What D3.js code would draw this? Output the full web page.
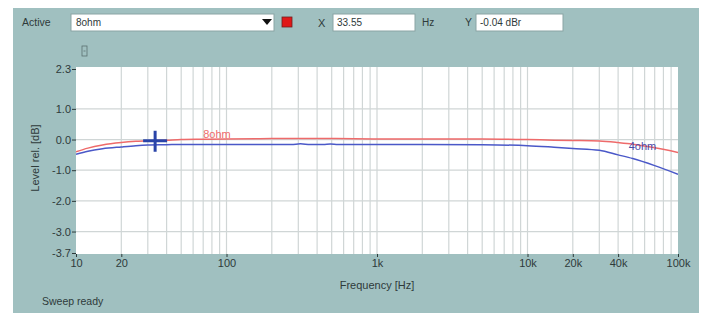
<!DOCTYPE html>
<html>
<head>
<meta charset="utf-8">
<script src="https://cdn.jsdelivr.net/npm/d3@7"></script>
<style>
  html, body { margin: 0; padding: 0; background: #fff; }
  svg { display: block; font-family: "Liberation Sans", Arial, sans-serif; }
</style>
</head>
<body>
<svg id="chart" width="708" height="323"></svg>
<script>
// ---- data ----
const freq8 = [10, 12, 15, 20, 25, 30, 40, 50, 70, 100, 200, 500, 1000, 2000, 5000, 10000, 15000, 20000, 30000, 40000, 50000, 70000, 100000];
const level8 = [-0.40, -0.28, -0.18, -0.10, -0.06, -0.04, -0.02, 0.00, 0.01, 0.02, 0.03, 0.03, 0.02, 0.02, 0.02, 0.00, -0.02, -0.03, -0.05, -0.10, -0.15, -0.27, -0.42];
const freq4 = [10, 12, 15, 20, 25, 30, 40, 50, 100, 200, 270, 310, 360, 440, 490, 550, 1000, 2000, 5000, 10000, 15000, 20000, 30000, 40000, 50000, 70000, 100000];
const level4 = [-0.48, -0.38, -0.30, -0.24, -0.20, -0.18, -0.17, -0.16, -0.16, -0.16, -0.16, -0.14, -0.16, -0.16, -0.145, -0.16, -0.16, -0.16, -0.17, -0.20, -0.25, -0.29, -0.35, -0.50, -0.62, -0.85, -1.13];
const xTickValues = [10, 20, 100, 1000, 10000, 20000, 40000, 100000];
const xTickLabels = ["10", "20", "100", "1k", "10k", "20k", "40k", "100k"];
const yTickValues = [2.3, 1.0, 0.0, -1.0, -2.0, -3.0, -3.7];
const yTickLabels = ["2.3", "1.0", "0.0", "-1.0", "-2.0", "-3.0", "-3.7"];
const yGridValues = [1.0, 0.0, -1.0, -2.0, -3.0];
const cursor = { f: 33.55, y: -0.04 };

const svg = d3.select("#chart");
const textCol = "#2e3a3a";

// panel
svg.append("rect").attr("x", 13).attr("y", 8).attr("width", 686).attr("height", 305)
  .attr("fill", "#a0c0c0");

// plot area
const L = 76, R = 678, T = 67, B = 254;
const x = d3.scaleLog().domain([10, 100000]).range([L, R]);
const y = d3.scaleLinear().domain([2.3, -3.7]).range([T + 2, B - 1]);

svg.append("rect").attr("x", L).attr("y", T).attr("width", R - L).attr("height", B - T).attr("fill", "#fff");

// vertical grid (1..9 per decade)
const gridF = [];
for (let d = 10; d < 100000; d *= 10) for (let k = 1; k <= 9; k++) gridF.push(d * k);
svg.append("g").selectAll("line").data(gridF.filter(f => f > 10 && f < 100000)).join("line")
  .attr("x1", d => x(d)).attr("x2", d => x(d)).attr("y1", T).attr("y2", B)
  .attr("stroke", "#d0d6d6").attr("stroke-width", 1.2);
// horizontal grid
svg.append("g").selectAll("line").data(yGridValues).join("line")
  .attr("x1", L).attr("x2", R).attr("y1", d => y(d)).attr("y2", d => y(d))
  .attr("stroke", "#d0d6d6").attr("stroke-width", 1.2);

// y axis
const yAxis = d3.axisLeft(y).tickValues(yTickValues).tickFormat((d, i) => yTickLabels[i]).tickSize(4).tickPadding(1);
const gy = svg.append("g").attr("transform", `translate(${L},0)`).call(yAxis);
gy.select(".domain").remove();
gy.selectAll("line").attr("stroke", textCol);
gy.selectAll("text").attr("fill", textCol).attr("font-size", 11);

// x axis
const xAxis = d3.axisBottom(x).tickValues(xTickValues).tickFormat((d, i) => xTickLabels[i]).tickSize(3).tickPadding(2);
const gx = svg.append("g").attr("transform", `translate(0,${B})`).call(xAxis);
gx.select(".domain").remove();
gx.selectAll("line").attr("stroke", textCol);
gx.selectAll("text").attr("fill", textCol).attr("font-size", 11);

// axis titles
svg.append("text").attr("x", 377).attr("y", 289).attr("text-anchor", "middle")
  .attr("font-size", 11).attr("fill", textCol).text("Frequency [Hz]");
svg.append("text").attr("transform", "translate(39,158) rotate(-90)").attr("text-anchor", "middle")
  .attr("font-size", 11).attr("fill", textCol).text("Level rel. [dB]");

// curves
const line = d3.line().x(d => x(d[0])).y(d => y(d[1])).curve(d3.curveMonotoneX);
svg.append("clipPath").attr("id", "clip").append("rect")
  .attr("x", L).attr("y", T).attr("width", R - L).attr("height", B - T);
const curves = svg.append("g").attr("clip-path", "url(#clip)");
curves.append("path").datum(d3.zip(freq4, level4)).attr("d", line)
  .attr("fill", "none").attr("stroke", "#4a58c8").attr("stroke-width", 1.5);
curves.append("path").datum(d3.zip(freq8, level8)).attr("d", line)
  .attr("fill", "none").attr("stroke", "#ee6a6a").attr("stroke-width", 1.5);

// curve labels
svg.append("text").attr("x", x(70)).attr("y", y(0.06)).attr("font-size", 11)
  .attr("fill", "#ee6a6a").text("8ohm");
svg.append("text").attr("x", x(47000)).attr("y", y(-0.34)).attr("font-size", 11)
  .attr("fill", "#4a4aa8").text("4ohm");

// cursor cross
const cx = x(cursor.f), cy = y(cursor.y);
svg.append("line").attr("x1", cx - 12).attr("x2", cx + 12).attr("y1", cy).attr("y2", cy)
  .attr("stroke", "#2a44a8").attr("stroke-width", 3);
svg.append("line").attr("x1", cx).attr("x2", cx).attr("y1", cy - 10).attr("y2", cy + 11)
  .attr("stroke", "#2a44a8").attr("stroke-width", 3);

// toolbar
svg.append("text").attr("x", 22).attr("y", 26).attr("font-size", 10.5).attr("fill", textCol).text("Active");
svg.append("rect").attr("x", 71).attr("y", 14).attr("width", 203).attr("height", 17)
  .attr("fill", "#fff").attr("stroke", "#8aa4a4");
svg.append("text").attr("x", 76).attr("y", 26).attr("font-size", 10).attr("fill", textCol).text("8ohm");
svg.append("path").attr("d", "M262,19 L272,19 L267,25 Z").attr("fill", "#111");
svg.append("rect").attr("x", 282).attr("y", 17).attr("width", 10).attr("height", 10)
  .attr("fill", "#e01818").attr("stroke", "#702020").attr("stroke-width", 0.8);
svg.append("text").attr("x", 318).attr("y", 27).attr("font-size", 11).attr("fill", textCol).text("X");
svg.append("rect").attr("x", 333).attr("y", 14).attr("width", 82).attr("height", 17)
  .attr("fill", "#fff").attr("stroke", "#8aa4a4");
svg.append("text").attr("x", 337).attr("y", 26).attr("font-size", 10).attr("fill", textCol).text("33.55");
svg.append("text").attr("x", 422).attr("y", 26).attr("font-size", 10).attr("fill", textCol).text("Hz");
svg.append("text").attr("x", 465).attr("y", 26).attr("font-size", 10.5).attr("fill", textCol).text("Y");
svg.append("rect").attr("x", 476).attr("y", 14).attr("width", 87).attr("height", 17)
  .attr("fill", "#fff").attr("stroke", "#8aa4a4");
svg.append("text").attr("x", 480).attr("y", 26).attr("font-size", 10).attr("fill", textCol).text("-0.04 dBr");

// small icon
svg.append("rect").attr("x", 82).attr("y", 46).attr("width", 5).attr("height", 10)
  .attr("fill", "none").attr("stroke", "#5a7070").attr("stroke-width", 0.8);
svg.append("line").attr("x1", 83.5).attr("x2", 85.5).attr("y1", 51).attr("y2", 51)
  .attr("stroke", "#5a7070").attr("stroke-width", 0.8);

// status
svg.append("text").attr("x", 42).attr("y", 305).attr("font-size", 10.5).attr("fill", textCol).text("Sweep ready");
</script>
</body>
</html>
